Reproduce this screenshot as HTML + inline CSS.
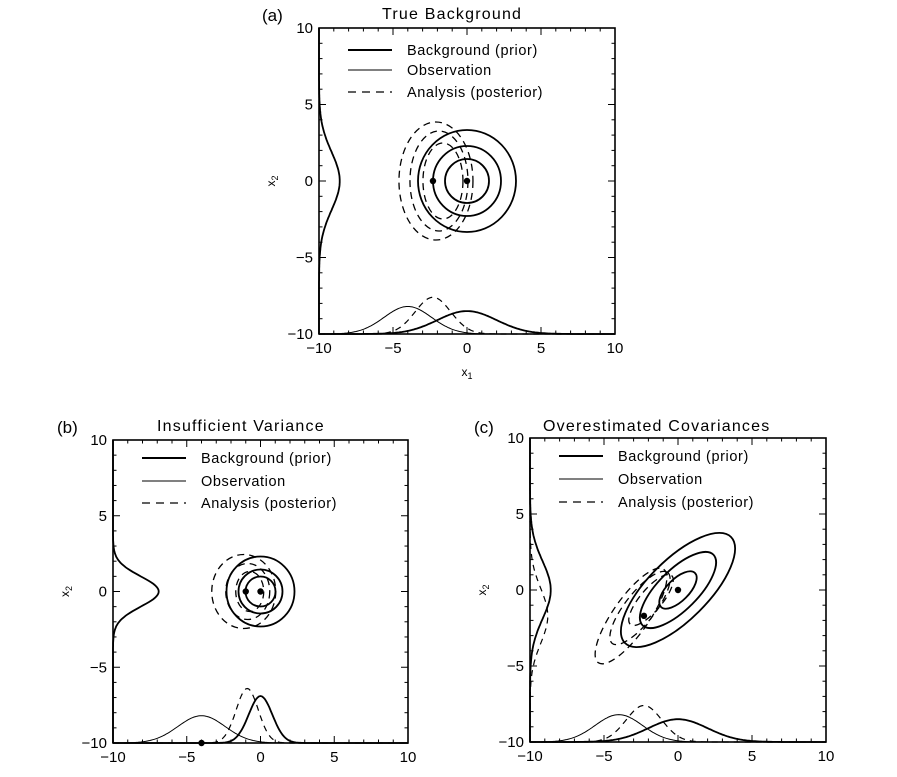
<!DOCTYPE html>
<html><head><meta charset="utf-8"><style>
html,body{margin:0;padding:0;background:#fff;width:897px;height:777px;overflow:hidden}
svg text{font-family:"Liberation Sans","DejaVu Sans",sans-serif;fill:#000}
</style></head><body>
<svg id="s" width="897" height="777" viewBox="0 0 897 777" xmlns="http://www.w3.org/2000/svg"></svg>
<script>
const S=document.getElementById('s');let out='';
function P(L,R,T,B){return {L,R,T,B,sx:(R-L)/20,sy:(B-T)/20,cx:(L+R)/2,cy:(T+B)/2,
 X(x){return this.cx+x*this.sx},Y(y){return this.cy-y*this.sy}};}
function axes(p,xlab){
 out+=`<rect x="${p.L}" y="${p.T}" width="${p.R-p.L}" height="${p.B-p.T}" fill="none" stroke="#000" stroke-width="1.6"/>`;
 for(let v=-10;v<=10;v++){const big=v%5==0,l=big?7:3.5;const x=p.X(v),y=p.Y(v);
  out+=`<line x1="${x}" y1="${p.B}" x2="${x}" y2="${p.B-l}" stroke="#000"/><line x1="${x}" y1="${p.T}" x2="${x}" y2="${p.T+l}" stroke="#000"/>`;
  out+=`<line x1="${p.L}" y1="${y}" x2="${p.L+l}" y2="${y}" stroke="#000"/><line x1="${p.R}" y1="${y}" x2="${p.R-l}" y2="${y}" stroke="#000"/>`;
  if(big){const t=v<0?'−'+(-v):''+v;
   out+=`<text x="${x}" y="${p.B+19}" font-size="15" text-anchor="middle">${t}</text>`;
   out+=`<text x="${p.L-6}" y="${y+5}" font-size="15" text-anchor="end">${t}</text>`;}
 }
 out+=`<text x="${p.L-44}" y="${p.cy}" font-size="12" transform="rotate(-90 ${p.L-44} ${p.cy})" text-anchor="middle">x<tspan font-size="9" dy="3">2</tspan></text>`;
 if(xlab) out+=`<text x="${p.cx}" y="${p.B+42}" font-size="12" text-anchor="middle">x<tspan font-size="9" dy="3">1</tspan></text>`;
}
function legend(p,lx,tx,ys){
 const st=[[2,''],[1,''],[1.3,'8,6']];const lab=['Background (prior)','Observation','Analysis (posterior)'];
 for(let i=0;i<3;i++){out+=`<line x1="${lx}" y1="${ys[i]}" x2="${lx+44}" y2="${ys[i]}" stroke="#000" stroke-width="${st[i][0]}" ${st[i][1]?`stroke-dasharray="${st[i][1]}"`:''}/>`;
  out+=`<text x="${tx}" y="${ys[i]+5}" font-size="14.5" letter-spacing="0.6">${lab[i]}</text>`;}
}
function gx(p,mu,peak,sig,w,dash){let d='';for(let i=0;i<=200;i++){const x=-10+i*0.1;const y=-10+(peak+10)*Math.exp(-((x-mu)**2)/(2*sig*sig));d+=(i?'L':'M')+p.X(x).toFixed(1)+','+p.Y(y).toFixed(1);}
 out+=`<path d="${d}" fill="none" stroke="#000" stroke-width="${w}" ${dash?'stroke-dasharray="6,5"':''}/>`;}
function gy(p,mu,peak,sig,w,dash){let d='';for(let i=0;i<=200;i++){const y=-10+i*0.1;const x=-10+(peak+10)*Math.exp(-((y-mu)**2)/(2*sig*sig));d+=(i?'L':'M')+p.X(x).toFixed(1)+','+p.Y(y).toFixed(1);}
 out+=`<path d="${d}" fill="none" stroke="#000" stroke-width="${w}" ${dash?'stroke-dasharray="6,5"':''}/>`;}
function el(cx,cy,rx,ry,rot,w,dash){out+=`<ellipse cx="${cx}" cy="${cy}" rx="${rx}" ry="${ry}" transform="rotate(${rot} ${cx} ${cy})" fill="none" stroke="#000" stroke-width="${w}" ${dash?'stroke-dasharray="7,5"':''}/>`;}
function dot(x,y){out+=`<circle cx="${x}" cy="${y}" r="3.2" fill="#000"/>`;}

// (a)
let a=P(319,615,28,334);axes(a,true);
out+=`<text x="262" y="21" font-size="17">(a)</text><text x="382" y="19" font-size="16" letter-spacing="1.2">True Background</text>`;
legend(a,348,407,[50,70,92]);
gy(a,0,-8.6,1.9,1.8);
gx(a,-4,-8.2,1.6,1);gx(a,0,-8.5,2,1.8);gx(a,-2.3,-7.6,1.2,1.2,true);
let ax=a.X(-2.3),ay=a.Y(0);
el(ax+3,ay,37,59,0,1.3,true);el(ax+6,ay,29,50,0,1.3,true);el(ax+10,ay,20,38,0,1.3,true);
el(a.X(0),a.Y(0),22,22,0,1.8);el(a.X(0),a.Y(0),34,35,0,1.8);el(a.X(0),a.Y(0),49,51,0,1.8);
dot(ax,ay);dot(a.X(0),a.Y(0));

// (b)
let b=P(113,408,440,743);axes(b,false);
out+=`<text x="57" y="433" font-size="17">(b)</text><text x="157" y="431" font-size="16" letter-spacing="1.2">Insufficient Variance</text>`;
legend(b,142,201,[458,481,503]);
gy(b,0,-6.9,1,1.8);
gx(b,-4,-8.2,1.6,1);gx(b,0,-6.9,0.8,1.8);gx(b,-0.9,-6.4,0.75,1.2,true);
let bx=b.X(-1),by=b.Y(0);
el(bx-2,by,32,37,0,1.3,true);el(bx+2,by,22,28,0,1.3,true);el(bx+4,by,14,20,0,1.3,true);
el(b.X(0),b.Y(0),15,15,0,1.8);el(b.X(0),b.Y(0),22,22,0,1.8);el(b.X(0),b.Y(0),34,35,0,1.8);
dot(bx,by);dot(b.X(0),b.Y(0));dot(b.X(-4),b.Y(-10));

// (c)
let c=P(530,826,438,742);axes(c,false);
out+=`<text x="474" y="433" font-size="17">(c)</text><text x="543" y="431" font-size="16" letter-spacing="1.2">Overestimated Covariances</text>`;
legend(c,559,618,[456,479,502]);
gy(c,0,-8.6,1.9,1.8);gy(c,-1.7,-8.8,1.8,1.2,true);
gx(c,-4,-8.2,1.6,1);gx(c,0,-8.5,2,1.8);gx(c,-2.3,-7.6,1.2,1.2,true);
let cx0=c.X(0),cy0=c.Y(0),ox=c.X(-2.3),oy=c.Y(-1.7);
el(cx0-47,cy0+26,57,18,-55,1.3,true);el(cx0-38,cy0+18,45,15,-52,1.3,true);el(cx0-27,cy0+10,32,11,-50,1.3,true);
el(cx0,cy0,24,11,-45,1.8);el(cx0,cy0,50,20,-45,1.8);el(cx0,cy0,75,30,-45,1.8);
dot(ox,oy);dot(cx0,cy0);
S.innerHTML=out;
</script>
</body></html>
